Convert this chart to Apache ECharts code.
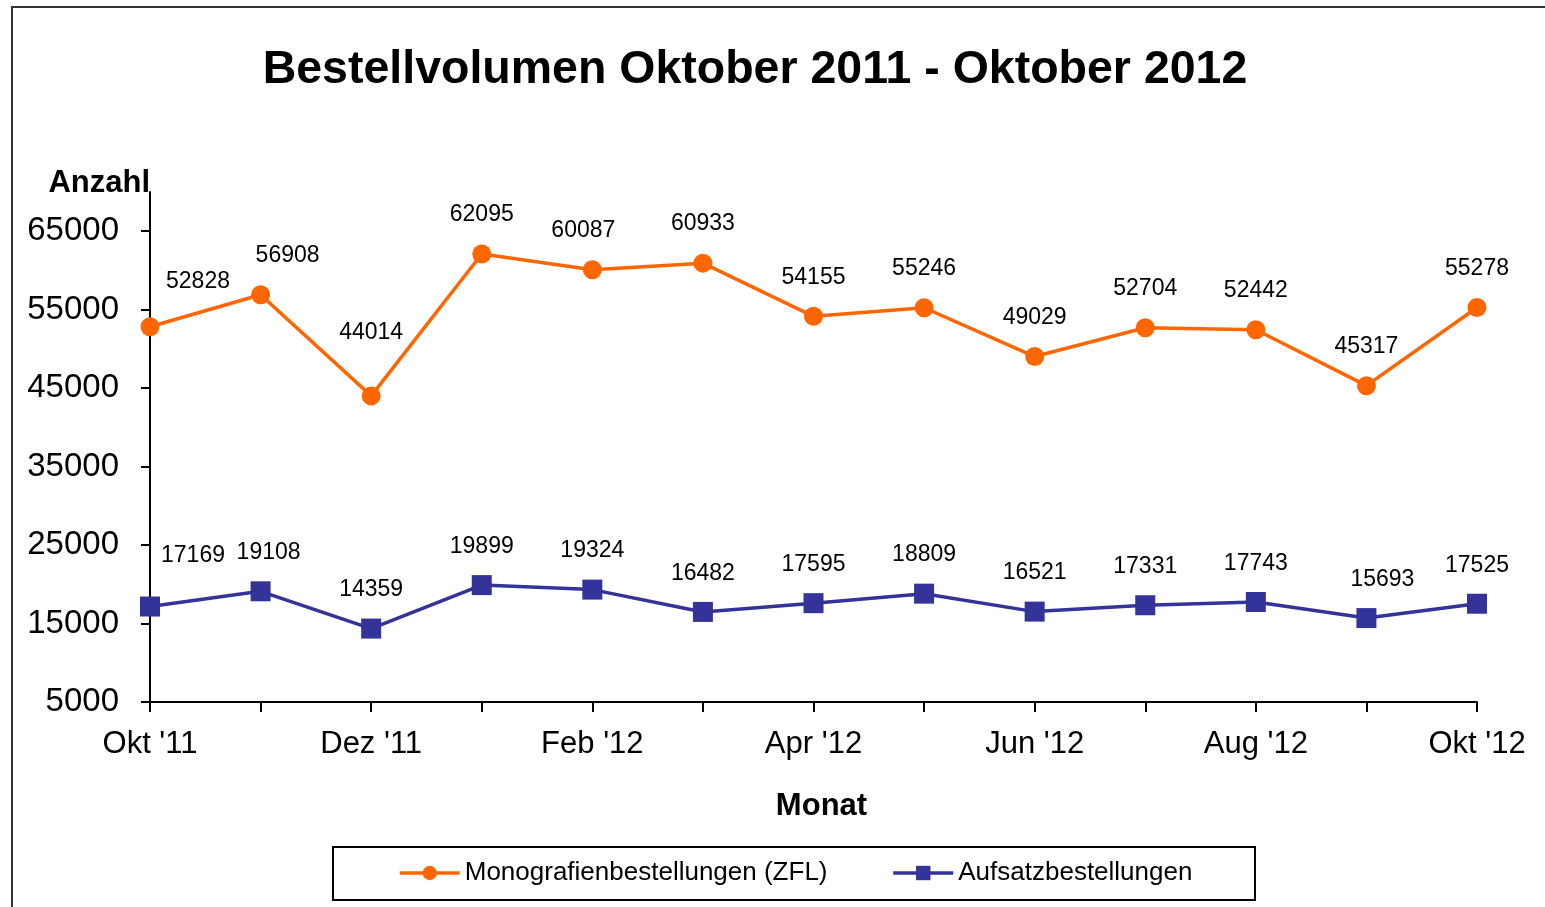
<!DOCTYPE html>
<html>
<head>
<meta charset="utf-8">
<script src="https://cdn.jsdelivr.net/npm/echarts@6/dist/echarts.min.js"></script>
<style>
  html, body { margin: 0; padding: 0; background: #fff; }
  #chart { width: 1545px; height: 907px; }
</style>
</head>
<body>
<div id="chart"></div>
<script>
// Monate (Okt 2011 - Okt 2012)
const months = ["Okt '11", "Nov '11", "Dez '11", "Jan '12", "Feb '12", "Mrz '12", "Apr '12",
  "Mai '12", "Jun '12", "Jul '12", "Aug '12", "Sep '12", "Okt '12"]
// Monografienbestellungen (ZFL)
const monografien = [52828, 56908, 44014, 62095, 60087, 60933, 54155, 55246, 49029, 52704, 52442, 45317, 55278]
// Aufsatzbestellungen
const aufsatz = [17169, 19108, 14359, 19899, 19324, 16482, 17595, 18809, 16521, 17331, 17743, 15693, 17525]
// Y-Achse Beschriftung
const yTicks = [5000, 15000, 25000, 35000, 45000, 55000, 65000]

const font = 'Arial, "Liberation Sans", sans-serif'
const chart = echarts.init(document.getElementById('chart'))

chart.setOption({
  backgroundColor: '#fff',
  animation: false,
  title: {
    text: 'Bestellvolumen Oktober 2011 - Oktober 2012',
    left: 750,
    textAlign: 'center',
    top: 42,
    textStyle: { fontFamily: font, fontSize: 46.5, fontWeight: 'bold', color: '#000' }
  },
  graphic: [
    { // Rahmen aussen
      type: 'rect',
      shape: { x: 12, y: 7, width: 1600, height: 1000 },
      style: { fill: 'none', stroke: '#333', lineWidth: 2 },
      silent: true
    },
    { // Legendenrahmen
      type: 'rect',
      shape: { x: 333, y: 847, width: 922, height: 53 },
      style: { fill: 'none', stroke: '#000', lineWidth: 2 },
      silent: true
    }
  ],
  legend: {
    left: 398,
    top: 860,
    itemWidth: 60,
    itemHeight: 18,
    itemGap: 64,
    padding: 0,
    lineStyle: { width: 3.5 },
    textStyle: { fontFamily: font, fontSize: 26, color: '#000' },
    data: ['Monografienbestellungen (ZFL)', 'Aufsatzbestellungen']
  },
  grid: {
    left: 150,
    right: 68,
    top: 192,
    bottom: 205,
    containLabel: false
  },
  xAxis: {
    type: 'category',
    data: months,
    boundaryGap: false,
    name: 'Monat',
    nameLocation: 'middle',
    nameGap: 89,
    nameTextStyle: { fontFamily: font, fontSize: 31, fontWeight: 'bold', color: '#000', padding: [0, 0, 0, 16] },
    axisLine: { lineStyle: { color: '#000', width: 2 } },
    axisTick: { show: true, interval: 0, length: 10, lineStyle: { color: '#000', width: 2 } },
    axisLabel: {
      interval: 1,
      margin: 27,
      fontFamily: font,
      fontSize: 31,
      color: '#000'
    },
    splitLine: { show: false }
  },
  yAxis: {
    type: 'value',
    min: 5000,
    max: 70000,
    interval: 10000,
    name: 'Anzahl',
    nameLocation: 'end',
    nameGap: -7,
    nameTextStyle: { fontFamily: font, fontSize: 31, fontWeight: 'bold', color: '#000', align: 'right' },
    axisLine: { show: true, lineStyle: { color: '#000', width: 2 } },
    axisTick: { show: true, length: 9, customValues: yTicks, lineStyle: { color: '#000', width: 2 } },
    axisLabel: {
      customValues: yTicks,
      formatter: function (v) { return String(v) },
      margin: 31,
      fontFamily: font,
      fontSize: 33,
      color: '#000'
    },
    splitLine: { show: false }
  },
  series: [
    {
      name: 'Monografienbestellungen (ZFL)',
      type: 'line',
      data: monografien,
      symbol: 'circle',
      symbolSize: 19,
      color: '#FF6600',
      lineStyle: { color: '#FF6600', width: 3.5 },
      itemStyle: { color: '#FF6600' },
      label: {
        show: true,
        position: 'top',
        distance: 18,
        fontFamily: font,
        fontSize: 23,
        color: '#000'
      },
      labelLayout: function (p) {
        if (p.dataIndex === 0) return { dx: 48, dy: -6 }
        if (p.dataIndex === 1) return { dx: 27 }
        if (p.dataIndex === 2) return { dy: -24 }
        if (p.dataIndex === 4) return { dx: -9 }
        return {}
      }
    },
    {
      name: 'Aufsatzbestellungen',
      type: 'line',
      data: aufsatz,
      symbol: 'rect',
      symbolSize: 20,
      color: '#333399',
      lineStyle: { color: '#333399', width: 3.5 },
      itemStyle: { color: '#333399' },
      label: {
        show: true,
        position: 'top',
        distance: 17,
        fontFamily: font,
        fontSize: 23,
        color: '#000'
      },
      labelLayout: function (p) {
        if (p.dataIndex === 0) return { dx: 43, dy: -12 }
        if (p.dataIndex === 1) return { dx: 8 }
        if (p.dataIndex === 11) return { dx: 16 }
        return {}
      }
    }
  ]
})
</script>
</body>
</html>
